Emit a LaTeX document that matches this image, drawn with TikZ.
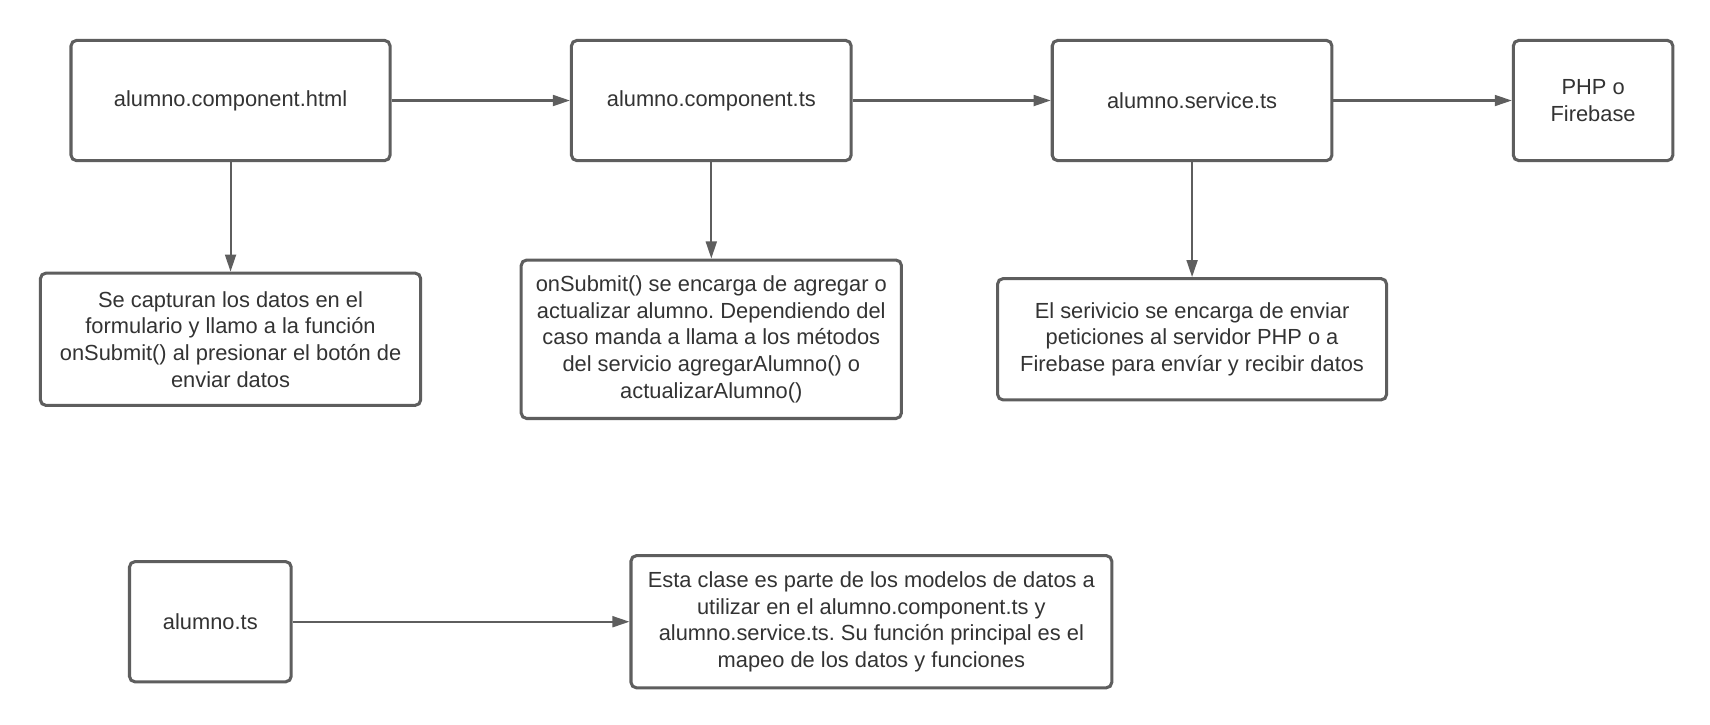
\documentclass[tikz,border=0pt]{standalone}
\usepackage{fontspec}
\setmainfont{Liberation Sans}
\frenchspacing
\usetikzlibrary{arrows.meta}
\definecolor{edgegray}{HTML}{5E5E5E}
\definecolor{txtgray}{HTML}{333333}
\begin{document}
\begin{tikzpicture}[x=0.5pt,y=-0.5pt,
  box/.style={draw=edgegray, line width=1.4pt, rounded corners=2.5pt, fill=white,
    text=txtgray, align=center, inner sep=0pt,
    font=\fontsize{10pt}{12.2pt}\selectfont},
  conn/.style={draw=edgegray, line width=0.95pt, -{Triangle[length=7.8pt,width=5pt]}}]
\fill[white] (0,0) rectangle (1565,663.5);
\useasboundingbox (0,0) rectangle (1565,663.5);
\node[box, minimum width=146pt, minimum height=55pt] (b1) at (211,92) {alumno.component.html};
\node[box, minimum width=128pt, minimum height=55pt] (b2) at (651,92) {alumno.component.ts};
\node[box, minimum width=128pt, minimum height=55pt] (b3) at (1091,92) {alumno.service.ts};
\node[box, minimum width=73pt, minimum height=55pt] (b4) at (1458,92) {PHP o\\Firebase};
\node[box, minimum width=174pt, minimum height=60.5pt] (n1) at (211,310.5) {Se capturan los datos en el\\formulario y llamo a la función\\onSubmit() al presionar el botón de\\enviar datos};
\node[box, minimum width=174pt, minimum height=72.5pt] (n2) at (651,310.5) {onSubmit() se encarga de agregar o\\actualizar alumno. Dependiendo del\\caso manda a llama a los métodos\\del servicio agregarAlumno() o\\actualizarAlumno()};
\node[box, minimum width=178pt, minimum height=55.5pt] (n3) at (1091,310.5) {El serivicio se encarga de enviar\\peticiones al servidor PHP o a\\Firebase para envíar y recibir datos};
\node[box, minimum width=74pt, minimum height=55pt] (b8) at (192.5,569) {alumno.ts};
\node[box, minimum width=220pt, minimum height=60.5pt] (n9) at (797.5,569) {Esta clase es parte de los modelos de datos a\\utilizar en el alumno.component.ts y\\alumno.service.ts. Su función principal es el\\mapeo de los datos y funciones};
\draw[conn] (b1.east) -- (b2.west);
\draw[conn] (b2.east) -- (b3.west);
\draw[conn] (b3.east) -- (b4.west);
\draw[conn] (b1.south) -- (n1.north);
\draw[conn] (b2.south) -- (n2.north);
\draw[conn] (b3.south) -- (n3.north);
\draw[conn] (b8.east) -- (n9.west);
\end{tikzpicture}
\end{document}
